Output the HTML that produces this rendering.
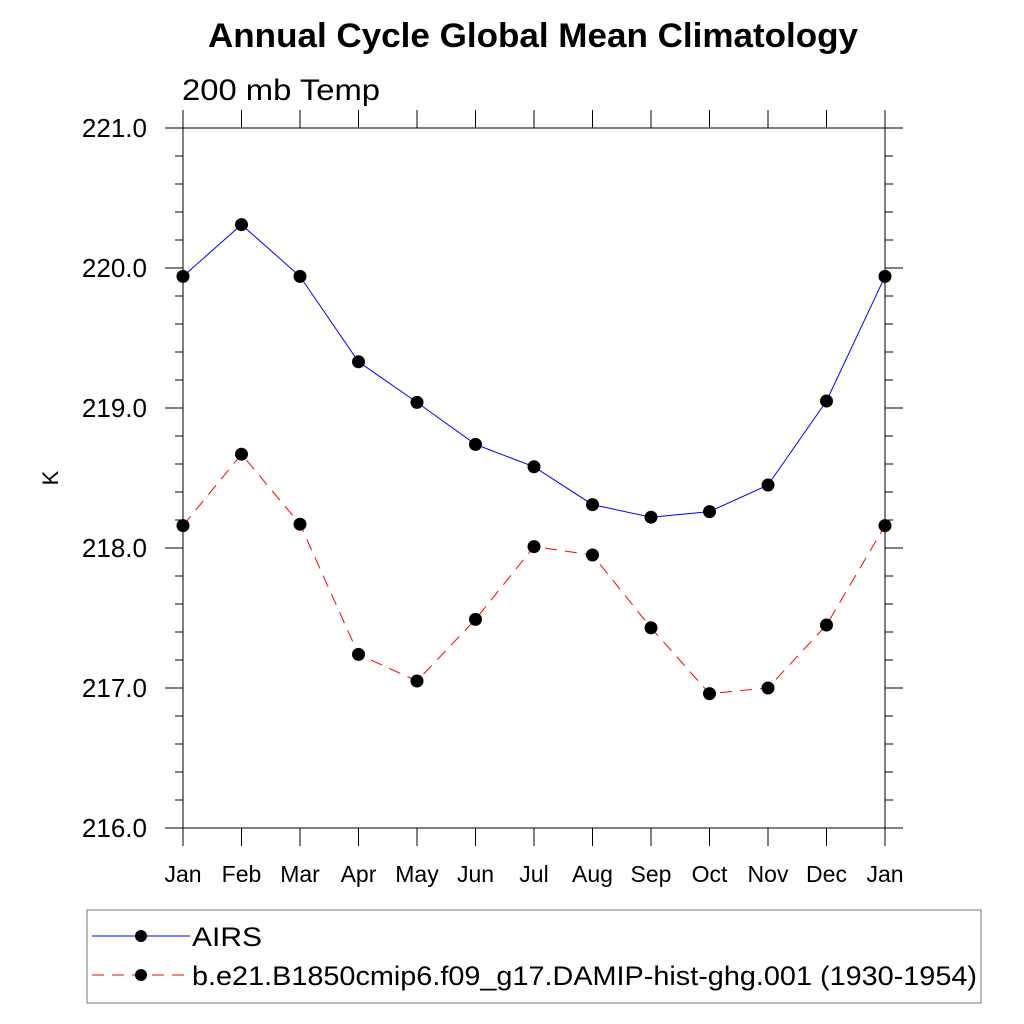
<!DOCTYPE html>
<html><head><meta charset="utf-8"><style>body{margin:0;background:#fff}svg{display:block;font-family:"Liberation Sans",sans-serif}</style></head>
<body>
<svg id="c" width="1024" height="1024" viewBox="0 0 1024 1024">
<text x="208" y="47" font-size="34" font-weight="bold" textLength="650" lengthAdjust="spacingAndGlyphs">Annual Cycle Global Mean Climatology</text>
<text x="182" y="100" font-size="30" textLength="198" lengthAdjust="spacingAndGlyphs">200 mb Temp</text>
<text x="58" y="478" font-size="22" text-anchor="middle" transform="rotate(-90 58 478)">K</text>
<g id="ax"></g>
<rect x="87" y="910" width="894" height="93" fill="none" stroke="#777"/>
<g>
<line x1="92" y1="936" x2="190" y2="936" stroke="#00f" stroke-width="1"/><circle cx="141" cy="936" r="6"/>
<text x="192" y="946" font-size="27" textLength="70" lengthAdjust="spacingAndGlyphs">AIRS</text></g>
<g>
<line x1="92" y1="975" x2="190" y2="975" stroke="#f00" stroke-width="1" stroke-dasharray="12,8"/><circle cx="141" cy="975" r="6"/>
<text x="192" y="985" font-size="27" textLength="785" lengthAdjust="spacingAndGlyphs">b.e21.B1850cmip6.f09_g17.DAMIP-hist-ghg.001 (1930-1954)</text></g>
</svg>
<script>
const months=["Jan","Feb","Mar","Apr","May","Jun","Jul","Aug","Sep","Oct","Nov","Dec","Jan"];
const airs=[219.94,220.31,219.94,219.33,219.04,218.74,218.58,218.31,218.22,218.26,218.45,219.05,219.94];
const model=[218.16,218.67,218.17,217.24,217.05,217.49,218.01,217.95,217.43,216.96,217.0,217.45,218.16];
const yTicks=[216,217,218,219,220,221];
const NS="http://www.w3.org/2000/svg";
const X0=183,X1=885,Y0=828,Y1=128,ymin=216,ymax=221;
const xs=i=>X0+i*(X1-X0)/(months.length-1);
const ys=v=>Y0-(v-ymin)*(Y0-Y1)/(ymax-ymin);
const g=document.getElementById('ax');
function mk(t,a,p){const e=document.createElementNS(NS,t);for(const k in a)e.setAttribute(k,a[k]);(p||g).appendChild(e);return e;}
const frame=mk('rect',{x:X0,y:Y1,width:X1-X0,height:Y0-Y1,fill:'none',stroke:'#000','stroke-width':1});


for(let v=ymin;v<=ymax+1e-6;v+=0.2){const y=ys(v);const maj=Math.abs(v-Math.round(v))<1e-6;const L=maj?18:8;
mk('line',{x1:X0-L,y1:y,x2:X0,y2:y,stroke:'#000'});mk('line',{x1:X1,y1:y,x2:X1+L,y2:y,stroke:'#000'});}
yTicks.forEach(v=>{const t=mk('text',{x:147,y:ys(v)+9,'text-anchor':'end','font-size':26});t.textContent=v.toFixed(1);

});
months.forEach((m,i)=>{const x=xs(i);mk('line',{x1:x,y1:Y0,x2:x,y2:Y0+18,stroke:'#000'});mk('line',{x1:x,y1:Y1-18,x2:x,y2:Y1,stroke:'#000'});
const t=mk('text',{x:x,y:882,'text-anchor':'middle','font-size':23});t.textContent=m;

});
function series(d,col,dash,name){const l=mk('polyline',{points:d.map((v,i)=>xs(i)+','+ys(v)).join(' '),fill:'none',stroke:col,'stroke-width':1,'stroke-dasharray':dash});


d.forEach((v,i)=>{const c=mk('circle',{cx:xs(i),cy:ys(v),r:6.5,fill:'#000'});

});}
series(airs,'#00f','none','airs');
series(model,'#f00','12,8','model');
</script>
</body></html>
